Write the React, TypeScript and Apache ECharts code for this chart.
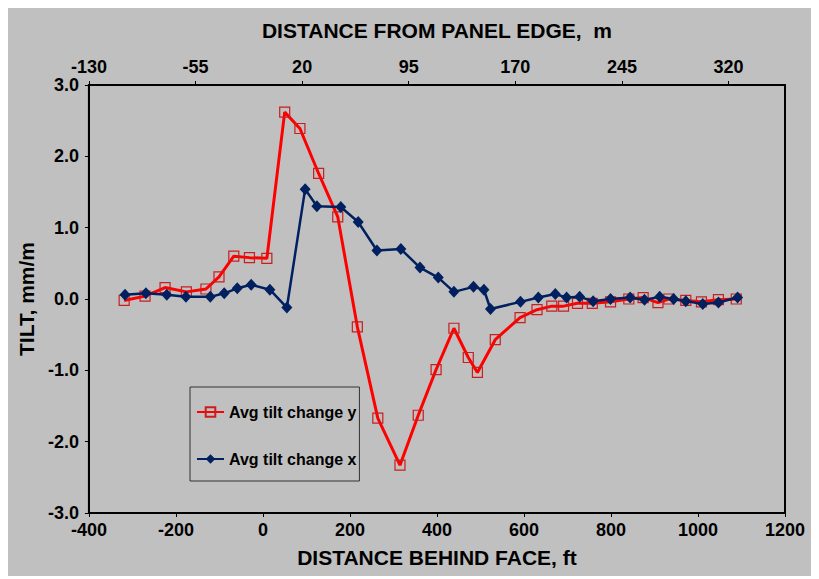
import React, { useEffect, useRef } from "react";
import * as echarts from "echarts";

// Distance behind face (ft) and tilt (mm/m)
const tiltYDist = [-319, -271, -225, -176, -131, -101, -67, -31, 9, 50, 85, 128, 172, 217, 264, 315, 357, 398, 439, 472, 493, 534, 591, 630, 664, 691, 723, 757, 799, 841, 874, 908, 933, 972, 1008, 1047, 1088];
const tiltYVal = [-0.02, 0.04, 0.16, 0.10, 0.14, 0.31, 0.60, 0.58, 0.57, 2.62, 2.39, 1.76, 1.15, -0.39, -1.67, -2.33, -1.63, -0.99, -0.41, -0.82, -1.03, -0.57, -0.26, -0.15, -0.10, -0.10, -0.06, -0.06, -0.04, 0.00, 0.02, -0.05, 0.00, -0.02, -0.04, -0.01, 0.00];

const tiltXDist = [-317, -269, -221, -177, -121, -89, -59, -27, 16, 55, 97, 124, 179, 219, 262, 317, 361, 403, 439, 484, 508, 523, 592, 633, 672, 698, 728, 759, 799, 844, 877, 912, 944, 972, 1011, 1047, 1091];
const tiltXVal = [0.06, 0.08, 0.06, 0.03, 0.03, 0.08, 0.15, 0.20, 0.13, -0.12, 1.54, 1.30, 1.29, 1.08, 0.68, 0.70, 0.44, 0.30, 0.10, 0.17, 0.13, -0.14, -0.04, 0.02, 0.07, 0.02, 0.03, -0.03, 0.00, 0.02, -0.01, 0.03, 0.00, -0.03, -0.07, -0.05, 0.02];

const topTicks = [-130, -55, 20, 95, 170, 245, 320];
const seriesNames = ["Avg tilt change y", "Avg tilt change x"];

const FONT = "'Liberation Sans', Arial, Helvetica, sans-serif";

export default function App() {
  const ref = useRef<HTMLDivElement>(null);
  useEffect(() => {
    if (!ref.current) return;
    const chart = echarts.init(ref.current, null, { renderer: "svg" });
    const labelStyle = { fontSize: 18, fontWeight: "bold", color: "#000", fontFamily: FONT };
    const nameStyle = { fontSize: 21, fontWeight: "bold", color: "#000", fontFamily: FONT };
    chart.setOption({
      animation: false,
      backgroundColor: "#c0c0c0",
      textStyle: { fontFamily: FONT },
      grid: {
        left: 78, top: 77, right: 29, bottom: 63,
        show: true, borderColor: "#000", borderWidth: 2, backgroundColor: "transparent",
      },
      xAxis: [
        {
          type: "value", position: "bottom", min: -400, max: 1200, interval: 200,
          name: "DISTANCE BEHIND FACE, ft", nameLocation: "middle", nameGap: 34,
          nameTextStyle: nameStyle,
          axisLine: { show: true, onZero: false, lineStyle: { color: "#000", width: 2 } },
          axisTick: { show: true, inside: false, length: 4, lineStyle: { color: "#000", width: 1 } },
          axisLabel: { ...labelStyle, margin: 8, formatter: (v: number) => String(v) },
          splitLine: { show: false },
        },
        {
          type: "value", position: "top", min: -130, max: 359.7,
          name: "DISTANCE FROM PANEL EDGE,  m", nameLocation: "middle", nameGap: 44,
          nameTextStyle: nameStyle,
          axisLine: { show: true, onZero: false, lineStyle: { color: "#000", width: 2 } },
          axisTick: { show: true, inside: false, length: 4, customValues: topTicks, lineStyle: { color: "#000", width: 1 } },
          axisLabel: { ...labelStyle, margin: 9, customValues: topTicks, formatter: (v: number) => String(v) },
          splitLine: { show: false },
        },
      ],
      yAxis: {
        type: "value", min: -3, max: 3, interval: 1,
        name: "TILT, mm/m", nameLocation: "middle", nameGap: 48, nameRotate: 90,
        nameTextStyle: nameStyle,
        axisLine: { show: true, onZero: false, lineStyle: { color: "#000", width: 2 } },
        axisTick: { show: true, inside: false, length: 4, lineStyle: { color: "#000", width: 1 } },
        axisLabel: { ...labelStyle, margin: 10, formatter: (v: number) => v.toFixed(1) },
        splitLine: { show: false },
      },
      legend: {
        orient: "vertical", left: 182, top: 379,
        data: seriesNames,
        padding: [17, 3, 14, 6],
        itemGap: 31, itemWidth: 27, itemHeight: 12,
        borderColor: "#333", borderWidth: 1, backgroundColor: "transparent",
        textStyle: { fontSize: 16, fontWeight: "bold", color: "#000", fontFamily: FONT },
      },
      series: [
        {
          name: seriesNames[0], type: "line", xAxisIndex: 0,
          data: tiltYDist.map((d, i) => [d, tiltYVal[i]]),
          symbol: "rect", symbolSize: 10,
          lineStyle: { color: "#ff0000", width: 3 },
          itemStyle: { color: "rgba(0,0,0,0)", borderColor: "#c81e1e", borderWidth: 1.2 },
          z: 2,
        },
        {
          name: seriesNames[1], type: "line", xAxisIndex: 0,
          data: tiltXDist.map((d, i) => [d, tiltXVal[i]]),
          symbol: "diamond", symbolSize: [11, 12],
          lineStyle: { color: "#002060", width: 2.5 },
          itemStyle: { color: "#002060", borderColor: "#002060", borderWidth: 0 },
          z: 3,
        },
      ],
    });
    return () => chart.dispose();
  }, []);
  return <div ref={ref} style={{ width: 806, height: 568, background: "#c0c0c0" }} />;
}
